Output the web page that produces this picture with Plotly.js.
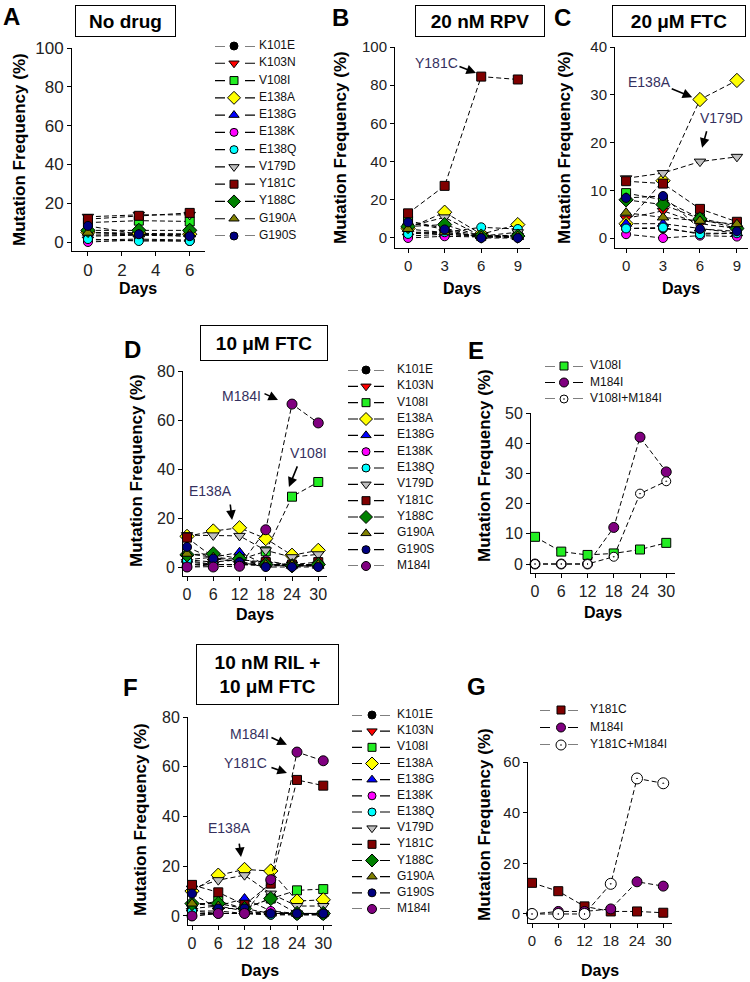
<!DOCTYPE html>
<html><head><meta charset="utf-8">
<script src="https://cdn.plot.ly/plotly-3.0.1.min.js"></script>
<style>body{margin:0;padding:0;background:#fff}#chart{width:750px;height:982px}</style>
</head><body><div id="chart"></div>
<script>
// ---------------- DATA ----------------
const mutations = ["K101E","K103N","V108I","E138A","E138G","E138K","E138Q","V179D","Y181C","Y188C","G190A","G190S"];
const mutationsM = mutations.concat(["M184I"]);
const namesE = ["V108I","M184I","V108I+M184I"];
const namesG = ["Y181C","M184I","Y181C+M184I"];

const daysA = [0,3,6];
const daysBC = [0,3,6,9];
const daysLong = [0,6,12,18,24,30];

const xTicksA = [0,2,4,6];
const xTicksBC = [0,3,6,9];
const xTicksLong = [0,6,12,18,24,30];
const yTicks100 = [0,20,40,60,80,100];
const yTicks40 = [0,10,20,30,40];
const yTicks80 = [0,20,40,60,80];
const yTicks50 = [0,10,20,30,40,50];
const yTicks60 = [0,20,40,60];

// A: No drug (rows follow `mutations`)
const valuesA = [
  [1,1.5,1],[3,3.5,3],[10,11,10.6],[5,4.5,4],[3.5,4,4],[0,1,0.5],
  [1.5,0.5,0.5],[13,14,14],[11.8,13.5,15],[6,6,6],[4.8,4,4],[8.3,4,3]
];
// B: 20 nM RPV
const valuesB = [
  [1,2,0.5,0.5],[3,3,1,1],[9,5,1,1.5],[5,13.5,2,7],[3,2,1,0.5],[0,0.9,0.5,0.3],
  [2.1,3,5.6,4.7],[6,10.8,1,3],[12.9,27.3,84.5,83],[6,7,1,1],[4.7,3,1,1],[8.2,4.5,0,0]
];
// C: 20 uM FTC
const valuesC = [
  [2,2,1,1],[4.1,5.7,3,2],[9.4,8,4.1,2.5],[3,12,29,33],[3,3,2,1],[0.8,0,0.5,0.3],
  [2,2.2,0.8,1],[12.5,13.6,16,17],[11.9,11.4,6.1,3.4],[8,7,4,2],[5.3,4.3,3.6,2.9],[8.4,8.8,1.9,1.4]
];
// D: 10 uM FTC (rows follow `mutationsM`)
const valuesD = [
  [1,1,1,1,0.5,0.5],[2,1,1,1,1,1],[3,2,3,6.4,28.7,34.7],[12.5,14.7,16,11.6,4.8,6.8],
  [3,4,6,1,0.5,0.5],[0,1,1,2.7,0.5,0.5],[2.7,1,1,0.5,0.5,0.5],[13,12.9,12.7,6.8,4,5.2],
  [12,4,3,2,1,2],[5,5.4,3.4,1,0.5,1],[5.4,4,2,1,1,1],[8.2,3.4,2,0,0,0],[0,0,0.3,15.2,66.5,58.8]
];
// E
const valuesE = [
  [9,4.1,3,3.5,4.8,7],[0,0,0,12.1,42,30.5],[0,0,0,2.4,23.3,27.4]
];
// F: 10 nM RIL + 10 uM FTC
const valuesF = [
  [1,1,1,0.5,0.5,0.5],[2,2,1,1,1,1],[4,6,3,7,10.3,10.8],[10,16.4,18.7,18.1,6,6.5],
  [3,4,7,2,1,1],[0,1,1,2,0.5,0.5],[2,1,1,0.5,0.5,0.5],[11,14.4,16.4,9,4,4],
  [12.5,9.5,4.5,13,54.7,52.4],[5,5,3,7,1,1],[5,4,2,1,1,1],[9,3,3,1,1,1],[0,1,1,14.6,65.9,62.4]
];
// G
const valuesG = [
  [12.3,9,3,1,1,0.5],[0,1,1,2,12.7,11],[0,0,0,11.9,53.5,51.6]
];

// ---------------- STYLES ----------------
const styles = {
  "K101E":{c:"#000000",s:"circle",z:9},
  "K103N":{c:"#ff0000",s:"triangle-down",z:10},
  "V108I":{c:"#22ee22",s:"square",z:9},
  "E138A":{c:"#ffff00",s:"diamond",z:11},
  "E138G":{c:"#0000ff",s:"triangle-up",z:10},
  "E138K":{c:"#ff00ff",s:"circle",z:9},
  "E138Q":{c:"#00ffff",s:"circle",z:9},
  "V179D":{c:"#c0c0c0",s:"triangle-down",z:10},
  "Y181C":{c:"#800000",s:"square",z:9},
  "Y188C":{c:"#008000",s:"diamond",z:11},
  "G190A":{c:"#808000",s:"triangle-up",z:10},
  "G190S":{c:"#000080",s:"circle",z:9},
  "M184I":{c:"#800080",s:"circle",z:10},
  "V108I+M184I":{c:"#ffffff",s:"circle-dot",z:9},
  "Y181C+M184I":{c:"#ffffff",s:"circle-dot",z:11}
};

const FONT = "'Liberation Sans Narrow','Arial Narrow','Liberation Sans',Arial,sans-serif";
const BFONT = "'Liberation Sans',Arial,sans-serif";
const W = 750, H = 982;
const px = v => v / W, py = v => 1 - v / H;

const traces = [];
const layout = {
  width: W, height: H, margin:{l:0,r:0,t:0,b:0}, showlegend:false,
  paper_bgcolor:'#fff', plot_bgcolor:'rgba(0,0,0,0)', annotations:[], shapes:[]
};
const ak = (p,n) => p + 'axis' + (n===1 ? '' : n);
const ref = (p,n) => p + (n===1 ? '' : n);

function panel(n, g) {
  layout[ak('x',n)] = {
    domain:[px(g.x0),px(g.x1)], range:g.xr, tickvals:g.xt, anchor:ref('y',n),
    showline:true, linecolor:'#000', linewidth:1, ticks:'outside', ticklen:4, tickcolor:'#000',
    showgrid:false, zeroline:false, fixedrange:true,
    tickfont:{family:FONT,size:g.tf,color:'#222'}
  };
  layout[ak('y',n)] = {
    domain:[py(g.y1),py(g.y0)], range:g.yr, tickvals:g.yt, anchor:ref('x',n),
    showline:true, linecolor:'#000', linewidth:1, ticks:'outside', ticklen:4, tickcolor:'#000',
    showgrid:false, zeroline:false, fixedrange:true,
    tickfont:{family:FONT,size:g.tf,color:'#222'}
  };
  g.names.forEach((name,i)=>{
    const st = styles[name];
    traces.push({
      type:'scatter', mode:'lines+markers', x:g.days, y:g.values[i],
      xaxis:ref('x',n), yaxis:ref('y',n), cliponaxis:false, hoverinfo:'skip',
      line:{color:'#000',width:1,dash:'5px,3px'},
      marker:{symbol:st.s,color:st.c,size:st.z,line:{color:'#000',width:1}}
    });
  });
}

function legendBlock(n, names, g) {
  const count = names.length;
  layout[ak('x',n)] = {domain:[px(g.x0),px(g.x0+100)], range:[0,100], visible:false, fixedrange:true, anchor:ref('y',n)};
  layout[ak('y',n)] = {domain:[py(g.yb),py(g.yt)], range:[count-1,0], visible:false, fixedrange:true, anchor:ref('x',n)};
  const d = 10;
  names.forEach((name,i)=>{
    const st = styles[name];
    traces.push({type:'scatter',mode:'lines',x:[0,g.len],y:[i,i],xaxis:ref('x',n),yaxis:ref('y',n),
      cliponaxis:false,hoverinfo:'skip',line:{color:'#000',width:1.2,dash:d+'px,'+(g.len-2*d)+'px'}});
    traces.push({type:'scatter',mode:'markers',x:[g.mk],y:[i],xaxis:ref('x',n),yaxis:ref('y',n),
      cliponaxis:false,hoverinfo:'skip',
      marker:{symbol:st.s,color:st.c,size:st.z-1,line:{color:'#000',width:1}}});
    traces.push({type:'scatter',mode:'text',x:[g.tx],y:[i],xaxis:ref('x',n),yaxis:ref('y',n),
      cliponaxis:false,hoverinfo:'skip',text:[name],textposition:'middle right',
      textfont:{family:FONT,size:12,color:'#111'}});
  });
}

// panels
panel(1,{x0:72,x1:205,y0:48,y1:251,xr:[-0.94,6.9],yr:[-4.64,100],xt:xTicksA,yt:yTicks100,tf:17,days:daysA,names:mutations,values:valuesA});
panel(2,{x0:395,x1:530,y0:47,y1:248,xr:[-1.07,10],yr:[-5.24,100],xt:xTicksBC,yt:yTicks100,tf:15,days:daysBC,names:mutations,values:valuesB});
panel(3,{x0:615,x1:748,y0:47,y1:248,xr:[-0.9,9.9],yr:[-2.09,40],xt:xTicksBC,yt:yTicks40,tf:15,days:daysBC,names:mutations,values:valuesC});
panel(4,{x0:183,x1:327,y0:371,y1:576,xr:[-0.92,32],yr:[-3.67,80],xt:xTicksLong,yt:yTicks80,tf:16,days:daysLong,names:mutationsM,values:valuesD});
panel(5,{x0:531,x1:675,y0:413,y1:573,xr:[-0.92,32],yr:[-2.98,50],xt:xTicksLong,yt:yTicks50,tf:16,days:daysLong,names:namesE,values:valuesE});
panel(6,{x0:188,x1:332,y0:717,y1:925,xr:[-0.92,32],yr:[-3.63,80],xt:xTicksLong,yt:yTicks80,tf:16,days:daysLong,names:mutationsM,values:valuesF});
panel(7,{x0:528,x1:672,y0:762,y1:923,xr:[-0.92,32],yr:[-3.56,60],xt:xTicksLong,yt:yTicks60,tf:15,days:daysLong,names:namesG,values:valuesG});

// legends
legendBlock(8, mutations, {x0:215,len:40,mk:19,tx:44,yt:46,yb:236});
legendBlock(9, mutationsM, {x0:348,len:36,mk:18,tx:49,yt:370,yb:566});
legendBlock(10, namesE, {x0:545,len:38,mk:19,tx:45,yt:366,yb:399});
legendBlock(11, mutationsM, {x0:352,len:38,mk:20,tx:45,yt:715,yb:909});
legendBlock(12, namesG, {x0:540,len:38,mk:21,tx:50,yt:710,yb:745});

// ---------------- ANNOTATIONS ----------------
const A = layout.annotations;
function ptext(x,y,text,size,opts){
  A.push(Object.assign({xref:'paper',yref:'paper',x:px(x),y:py(y),xanchor:'center',yanchor:'middle',
    text:text,showarrow:false,font:{family:BFONT,size:size,color:'#000',weight:'bold'}},opts||{}));
}
// panel letters
[["A",11,17],["B",340,18],["C",562,18],["D",132,349],["E",476,350],["F",130,687],["G",476,686]]
  .forEach(a=>ptext(a[1],a[2],a[0],24));
// title boxes
function box(cx,cy,w,h,text){
  ptext(cx,cy,text,19,{bordercolor:'#000',borderwidth:1,borderpad:0,bgcolor:'#fff',width:w-2,height:h-2});
}
box(125.5,21,101,32,"No drug");
box(480,21,130,32,"20 nM RPV");
box(679,21,134,32,"20 μM FTC");
box(264,343,128,36,"10 μM FTC");
box(267.5,674.5,143,61,"10 nM RIL +<br>10 μM FTC");
// axis titles
[[20,150],[341,148],[565,148],[136,471],[484,466],[140,820],[484,825]]
  .forEach(p=>ptext(p[0],p[1],"Mutation Frequency (%)",17,{textangle:-90}));
[[138,289],[462,289],[681,289],[255,614],[603,612],[260,970],[600,970]]
  .forEach(p=>ptext(p[0],p[1],"Days",16));
// mutation labels
const labColor = '#35305e';
[["Y181C",436,63],["E138A",649,82],["V179D",721,118],["M184I",241,396],["V108I",308,453],
 ["E138A",210,491],["M184I",249,734],["Y181C",245,763],["E138A",229,828]]
  .forEach(l=>A.push({xref:'paper',yref:'paper',x:px(l[1]),y:py(l[2]),xanchor:'center',yanchor:'middle',
    text:l[0],showarrow:false,font:{family:BFONT,size:14,color:labColor}}));
// arrows (tip in data coords of the panel, tail in pixel offsets)
function arrow(n,x,y,ax,ay){
  A.push({xref:ref('x',n),yref:ref('y',n),x:x,y:y,ax:ax,ay:ay,text:'',showarrow:true,
    arrowhead:2,arrowsize:1.2,arrowwidth:1.6,arrowcolor:'#000',standoff:0,startstandoff:0});
}
arrow(2,5.57,86.4,-18,-7);
arrow(3,5.37,29.5,-22,-9);
arrow(3,6.17,18.9,5,-18);
arrow(4,20.8,68.2,-15,-7);
arrow(4,23.3,32.7,9,-22);
arrow(4,10.3,19.2,-2,-17);
arrow(6,21.7,68.8,-17,-8);
arrow(6,21.7,57.5,-17,-6);
arrow(6,11.2,23.7,-2,-15);

Plotly.newPlot('chart',traces,layout,{staticPlot:true,displayModeBar:false});
</script></body></html>
